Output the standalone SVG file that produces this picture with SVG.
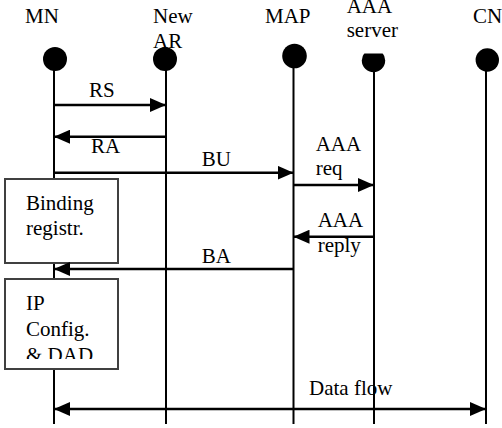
<svg xmlns="http://www.w3.org/2000/svg" width="502" height="428" viewBox="0 0 502 428">
<style>
text{font-family:"Liberation Serif","Times New Roman",serif;font-size:21px;fill:#000}
.life{stroke:#000;stroke-width:2;fill:none}
.msg{stroke:#000;stroke-width:2.5;fill:none}
.box{fill:#fff;stroke:#404040;stroke-width:2}
</style>
<defs>
<marker id="ah" viewBox="0 0 16 14" refX="16" refY="7" markerWidth="16" markerHeight="14" markerUnits="userSpaceOnUse" orient="auto-start-reverse">
<path d="M0,0 L16,7 L0,14 Z" fill="#000"/>
</marker>
<clipPath id="aaaclip"><rect x="340" y="53.5" width="60" height="30"/></clipPath>
<clipPath id="ipclip"><rect x="5" y="279" width="113" height="80"/></clipPath>
</defs>
<rect width="502" height="428" fill="#fff"/>
<g id="MN">
<text x="25" y="23">MN</text>
<circle cx="55" cy="59" r="12" fill="#000"/>
<line class="life" x1="54" y1="70" x2="54" y2="424"/>
</g>
<g id="NewAR">
<line class="life" x1="166" y1="70" x2="166" y2="424"/>
<circle cx="165" cy="59" r="12" fill="#000"/>
<text x="153" y="23">New</text>
<text x="153" y="47.5">AR</text>
</g>
<g id="MAP">
<text x="265" y="23">MAP</text>
<circle cx="294.5" cy="56" r="12.3" fill="#000"/>
<line class="life" x1="293.5" y1="67" x2="293.5" y2="424"/>
</g>
<g id="AAA">
<text x="346.7" y="13">AAA</text>
<text x="346.7" y="36.7">server</text>
<circle cx="373.5" cy="60.5" r="11.7" fill="#000" clip-path="url(#aaaclip)"/>
<line class="life" x1="374" y1="70" x2="374" y2="424"/>
</g>
<g id="CN">
<text x="473" y="23">CN</text>
<circle cx="487.3" cy="60" r="11.7" fill="#000"/>
<line class="life" x1="486" y1="70" x2="486" y2="424"/>
</g>
<g id="binding">
<rect class="box" x="5" y="179" width="113" height="84"/>
<text x="26" y="210">Binding</text>
<text x="26" y="235">registr.</text>
</g>
<g id="ipconfig">
<rect class="box" x="5" y="279" width="113" height="90"/>
<g clip-path="url(#ipclip)">
<text x="26" y="310">IP</text>
<text x="26" y="336">Config.</text>
<text x="26" y="361.5">&amp; DAD</text>
</g>
</g>
<g id="connectors">
<line class="msg" x1="54" y1="105" x2="166" y2="105" marker-end="url(#ah)"/>
<text x="89" y="97">RS</text>
<line class="msg" x1="166" y1="136.7" x2="54" y2="136.7" marker-end="url(#ah)"/>
<text x="91" y="152.7">RA</text>
<line class="msg" x1="54" y1="172.7" x2="293.5" y2="172.7" marker-end="url(#ah)"/>
<text x="201.7" y="166">BU</text>
<line class="msg" x1="293.5" y1="185" x2="374" y2="185" marker-end="url(#ah)"/>
<text x="315.7" y="151">AAA</text>
<text x="315.7" y="174.5">req</text>
<line class="msg" x1="374" y1="236.7" x2="293.5" y2="236.7" marker-end="url(#ah)"/>
<text x="317.7" y="226.7">AAA</text>
<text x="317.7" y="252">reply</text>
<line class="msg" x1="293.5" y1="269" x2="54" y2="269" marker-end="url(#ah)"/>
<text x="201.7" y="262.7">BA</text>
<line class="msg" x1="54" y1="409" x2="486" y2="409" marker-start="url(#ah)" marker-end="url(#ah)"/>
<text x="309" y="395">Data flow</text>
</g>
</svg>
